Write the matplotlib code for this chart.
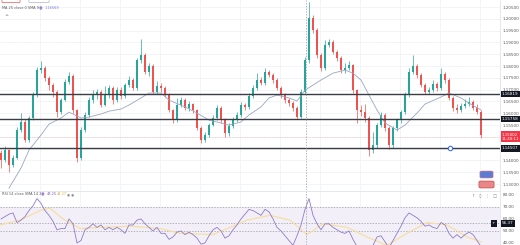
import matplotlib.pyplot as plt
from matplotlib.patches import FancyBboxPatch
import numpy as np

# candle data (4h bars), left to right
closes = [1.1402, 1.1444, 1.1381, 1.1410, 1.1529, 1.1563, 1.1486, 1.1580, 1.1677, 1.1783,
          1.1792, 1.1749, 1.1720, 1.1690, 1.1605, 1.1656, 1.1732, 1.1758, 1.1614, 1.1410,
          1.1529, 1.1592, 1.1656, 1.1677, 1.1690, 1.1635, 1.1677, 1.1707, 1.1656, 1.1699,
          1.1673, 1.1720, 1.1741, 1.1707, 1.1825, 1.1847, 1.1775, 1.1800, 1.1690, 1.1715,
          1.1707, 1.1677, 1.1614, 1.1571, 1.1635, 1.1656, 1.1622, 1.1639, 1.1614, 1.1537,
          1.1486, 1.1507, 1.1550, 1.1580, 1.1622, 1.1571, 1.1516, 1.1546, 1.1571, 1.1592,
          1.1635, 1.1627, 1.1673, 1.1707, 1.1741, 1.1728, 1.1775, 1.1762, 1.1741, 1.1707,
          1.1677, 1.1656, 1.1643, 1.1622, 1.1584, 1.1690, 1.1825, 1.2003, 1.1953, 1.1847,
          1.1792, 1.1889, 1.1902, 1.1860, 1.1834, 1.1783, 1.1792, 1.1804, 1.1699, 1.1614,
          1.1605, 1.1580, 1.1444, 1.1465, 1.1550, 1.1592, 1.1537, 1.1465, 1.1537, 1.1571,
          1.1605, 1.1677, 1.1775, 1.1800, 1.1762, 1.1720, 1.1690, 1.1699, 1.1724, 1.1707,
          1.1766, 1.1741, 1.1665, 1.1622, 1.1614, 1.1631, 1.1639, 1.1648, 1.1622, 1.1605,
          1.1507]
first_open = 1.1430
highs = [1.1445, 1.1460, 1.1450, 1.1425, 1.1540, 1.1600, 1.1575, 1.1590, 1.1690, 1.1795,
         1.1822, 1.1800, 1.1760, 1.1730, 1.1700, 1.1665, 1.1745, 1.1775, 1.1765, 1.1620,
         1.1540, 1.1605, 1.1668, 1.1700, 1.1705, 1.1700, 1.1715, 1.1720, 1.1715, 1.1710,
         1.1712, 1.1730, 1.1758, 1.1750, 1.1835, 1.1915, 1.1855, 1.1815, 1.1808, 1.1735,
         1.1728, 1.1715, 1.1685, 1.1620, 1.1665, 1.1668, 1.1665, 1.1650, 1.1645, 1.1620,
         1.1545, 1.1520, 1.1560, 1.1592, 1.1635, 1.1630, 1.1578, 1.1558, 1.1585, 1.1605,
         1.1648, 1.1645, 1.1685, 1.1718, 1.1770, 1.1752, 1.1790, 1.1785, 1.1770, 1.1748,
         1.1715, 1.1685, 1.1665, 1.1650, 1.1630, 1.1705, 1.1840, 1.2070, 1.2015, 1.1960,
         1.1855, 1.1910, 1.1915, 1.1910, 1.1868, 1.1842, 1.1812, 1.1820, 1.1810, 1.1705,
         1.1635, 1.1640, 1.1590, 1.1520, 1.1560, 1.1605, 1.1600, 1.1545, 1.1548, 1.1580,
         1.1615, 1.1690, 1.1790, 1.1845, 1.1810, 1.1770, 1.1728, 1.1712, 1.1740, 1.1732,
         1.1790, 1.1775, 1.1748, 1.1672, 1.1640, 1.1645, 1.1660, 1.1668, 1.1655, 1.1640,
         1.1612]
lows = [1.1370, 1.1395, 1.1350, 1.1372, 1.1405, 1.1520, 1.1478, 1.1480, 1.1570, 1.1670,
        1.1770, 1.1735, 1.1700, 1.1670, 1.1585, 1.1595, 1.1650, 1.1725, 1.1600, 1.1395,
        1.1400, 1.1520, 1.1585, 1.1645, 1.1660, 1.1625, 1.1630, 1.1665, 1.1640, 1.1648,
        1.1660, 1.1665, 1.1712, 1.1698, 1.1700, 1.1815, 1.1765, 1.1760, 1.1680, 1.1682,
        1.1692, 1.1668, 1.1605, 1.1560, 1.1565, 1.1625, 1.1612, 1.1610, 1.1600, 1.1528,
        1.1476, 1.1478, 1.1500, 1.1545, 1.1572, 1.1560, 1.1498, 1.1505, 1.1538, 1.1562,
        1.1585, 1.1615, 1.1620, 1.1665, 1.1700, 1.1718, 1.1720, 1.1752, 1.1730, 1.1698,
        1.1665, 1.1645, 1.1630, 1.1610, 1.1575, 1.1580, 1.1685, 1.1815, 1.1940, 1.1835,
        1.1780, 1.1785, 1.1880, 1.1850, 1.1822, 1.1770, 1.1772, 1.1782, 1.1688, 1.1560,
        1.1590, 1.1565, 1.1418, 1.1432, 1.1455, 1.1540, 1.1525, 1.1450, 1.1455, 1.1525,
        1.1560, 1.1598, 1.1670, 1.1765, 1.1750, 1.1710, 1.1680, 1.1680, 1.1690, 1.1695,
        1.1700, 1.1730, 1.1655, 1.1610, 1.1600, 1.1605, 1.1622, 1.1630, 1.1612, 1.1595,
        1.1495]

# moving average overlay (read at candle positions)
ma_x = [2, 5, 7, 10, 12, 15, 17, 20, 22, 25, 27, 30, 32, 35, 37, 40, 42, 46, 49, 52, 55, 57, 60, 62,
        65, 67, 69, 72, 74, 76, 80, 83, 86, 88, 90, 92, 94, 96, 99, 101, 104, 106, 110, 112, 115, 117, 120]
ma_vals = [1.1283, 1.1368, 1.1444, 1.1508, 1.1554, 1.1580, 1.1605, 1.1580, 1.1584, 1.1597, 1.1609,
           1.1618, 1.1635, 1.1665, 1.1686, 1.1686, 1.1656, 1.1627, 1.1601, 1.1571, 1.1559, 1.1550,
           1.1563, 1.1593, 1.1627, 1.1665, 1.1677, 1.1665, 1.1652, 1.1698, 1.1741, 1.1770, 1.1783,
           1.1770, 1.1741, 1.1677, 1.1614, 1.1559, 1.1529, 1.1550, 1.1601, 1.1639, 1.1669, 1.1686,
           1.1665, 1.1643, 1.1614]

# support / resistance levels
levels = [1.1681, 1.1576, 1.1451]
level_labels = ['1.16819', '1.15758', '1.14507']
last_price = 1.1500

# RSI pane
rsi = [60, 62, 64, 65, 57, 59, 62, 67, 71, 77, 73, 67, 63, 58, 51, 52, 52, 60, 56, 40,
       42, 51, 53, 56, 53, 55, 51, 53, 51, 53, 51, 48, 55, 55, 59, 60, 56, 53, 50, 53,
       48, 48, 43, 45, 49, 50, 47, 49, 47, 44, 39, 40, 46, 51, 53, 50, 44, 46, 51, 55,
       60, 64, 68, 67, 65, 63, 68, 66, 60, 53, 50, 46, 42, 38, 46, 55, 68, 77, 63, 56,
       51, 56, 56, 53, 51, 49, 48, 50, 43, 37, 35, 34, 33, 38, 45, 46, 41, 36, 42, 48,
       54, 61, 65, 63, 61, 58, 54, 55, 53, 52, 57, 55, 48, 44, 47, 44, 47, 49, 47, 42,
       37]
rsi_ma_x = [-0.25, 4.75, 9.75, 12.25, 15.5, 19.75, 24.75, 32.25, 39.75, 44.75, 53, 61.5, 67.25,
            72.25, 76.5, 80.5, 86.5, 91.5, 96.5, 101.5, 106.5, 111.5, 116.5, 120]
rsi_ma = [55, 59, 67, 69, 60, 52, 53, 54, 52, 48, 47, 59, 63, 59, 47, 56, 53, 45, 38, 48, 57, 55, 45, 41]
cross_x = 76.25
cross_rsi = 56.37

up_col = '#26a69a'
dn_col = '#ef5350'
grid_col = '#f0f2f7'

fig = plt.figure(figsize=(5.2, 2.45), dpi=100)
ax = fig.add_axes([0, 1 - 190 / 245, 500 / 520, 190 / 245])
ax2 = fig.add_axes([0, 0, 500 / 520, 54 / 245])

opens = [first_open] + closes[:-1]
x = np.arange(len(closes))
o = np.array(opens)
c = np.array(closes)
col = np.where(c >= o, up_col, dn_col)
ax.vlines(x, lows, highs, colors=col, lw=0.5, zorder=3)
ax.bar(x, np.maximum(np.abs(c - o), 0.0002), bottom=np.minimum(o, c), width=0.6,
       color=col, zorder=4)
ax.plot(ma_x, ma_vals, color='#9aa6c4', lw=0.6, zorder=5)

for lv in levels:
    ax.axhline(lv, color='#3b3d45', lw=1.0, zorder=6)
ax.axhline(last_price, color=dn_col, lw=0.4, ls=(0, (1, 2)), alpha=0.6, zorder=2)
ax.plot([112.25], [1.1451], 'o', ms=3.2, mfc='white', mec='#2962ff', mew=0.7, zorder=7)

xlim = (-0.25, 124.75)
ax.set_xlim(xlim)
ax.set_ylim(1.1275, 1.2080)
ticks = np.arange(1.130, 1.2051, 0.005)
ax.set_yticks(ticks)
# the labels under the price boxes are hidden
ax.set_yticklabels(['' if abs(t - 1.145) < 1e-6 or abs(t - 1.150) < 1e-6 else f'{t:.5f}'
                    for t in ticks])
ax.yaxis.tick_right()
ax.tick_params(axis='y', length=0, pad=2, labelsize=3, labelcolor='#555')
ax.set_xticks(np.arange(9.75, 125, 10))
ax.tick_params(axis='x', length=0, labelbottom=False)
ax.grid(True, color=grid_col, lw=0.6)
for s in ['top', 'left', 'bottom']:
    ax.spines[s].set_visible(False)
ax.spines['right'].set_color('#e0e3eb')
ax.spines['right'].set_linewidth(0.6)
ax.axvline(cross_x, color='#9598a1', lw=0.5, ls=(0, (2, 2)), zorder=8)

tr = ax.get_yaxis_transform()
for lv, lb in zip(levels, level_labels):
    ax.text(1.004, lv, lb, transform=tr, fontsize=3, color='white', va='center', ha='left',
            bbox=dict(boxstyle='square,pad=0.3', fc='#131722', ec='none'), zorder=10, clip_on=False)
ax.text(1.004, last_price, '1.15002\n11:40:11', transform=tr, fontsize=2.8, color='white',
        va='center', ha='left', linespacing=1.2,
        bbox=dict(boxstyle='square,pad=0.3', fc='#f23645', ec='none'), zorder=10, clip_on=False)

# legend texts
fig.text(2 / 520, 1 - 8 / 245, 'MA 25 close 0 SMA 9', fontsize=2.5, color='#555', va='center')
fig.text(39 / 520, 1 - 8 / 245, '◉', fontsize=3, color='#7e57c2', va='center')
fig.text(45 / 520, 1 - 8 / 245, '1.16569', fontsize=2.5, color='#6c7bd6', va='center')
fig.text(4 / 520, 1 - 17 / 245, '^', fontsize=3.5, color='#555', va='center')

# top toolbar fragments
fig.patches.append(FancyBboxPatch((3 / 520, 1 - 2 / 245), 16 / 520, 4 / 245,
                                  boxstyle='round,pad=0.002', fc='white', ec='#ef5350', lw=0.5,
                                  transform=fig.transFigure))
fig.patches.append(FancyBboxPatch((30 / 520, 1 - 2 / 245), 18 / 520, 4 / 245,
                                  boxstyle='round,pad=0.002', fc='white', ec='#b2b5be', lw=0.5,
                                  transform=fig.transFigure))

# flag icons
fig.patches.append(FancyBboxPatch((482 / 520, 1 - 177 / 245), 9 / 520, 5 / 245,
                                  boxstyle='round,pad=0.004', fc='#5b7bd5', ec='#e57373', lw=0.4,
                                  transform=fig.transFigure))
fig.patches.append(FancyBboxPatch((481 / 520, 1 - 187 / 245), 11 / 520, 5 / 245,
                                  boxstyle='round,pad=0.004', fc='#e8868a', ec='#c0392b', lw=0.4,
                                  transform=fig.transFigure))
fig.text(472 / 520, 1 - 195 / 245, '↑   ▯   ⋮   □', fontsize=3, color='#888', va='center')

# RSI pane
ax2.fill_between(xlim, 30, 70, color='#7e57c2', alpha=0.09, lw=0)
ax2.axhline(70, color='#9598a1', lw=0.5, ls=(0, (2, 2)))
ax2.axhline(50, color='#9598a1', lw=0.5, ls=(0, (2, 2)))
ax2.axhline(cross_rsi, color='#9598a1', lw=0.5, ls=(0, (2, 2)))
ax2.plot(rsi_ma_x, rsi_ma, color='#f6dfa4', lw=0.9)
ax2.plot(x, rsi, color='#8e7cc3', lw=0.6)
ax2.axvline(cross_x, color='#9598a1', lw=0.5, ls=(0, (2, 2)))
ax2.set_xlim(xlim)
ax2.set_ylim(38.3, 83.3)
rt = [40, 50, 60, 70, 80]
ax2.set_yticks(rt)
ax2.set_yticklabels([f'{t:.2f}' for t in rt])
ax2.yaxis.tick_right()
ax2.tick_params(axis='y', length=0, pad=2, labelsize=3, labelcolor='#555')
ax2.set_xticks(np.arange(9.75, 125, 10))
ax2.tick_params(axis='x', length=0, labelbottom=False)
ax2.grid(True, axis='x', color=grid_col, lw=0.6)
for s in ['left', 'bottom']:
    ax2.spines[s].set_visible(False)
ax2.spines['top'].set_color('#e0e3eb')
ax2.spines['top'].set_linewidth(0.6)
ax2.spines['right'].set_color('#e0e3eb')
ax2.spines['right'].set_linewidth(0.6)
tr2 = ax2.get_yaxis_transform()
ax2.text(1.004, cross_rsi, f'{cross_rsi:.2f}', transform=tr2, fontsize=3, color='white',
         va='center', ha='left', bbox=dict(boxstyle='square,pad=0.3', fc='#131722', ec='none'),
         zorder=10, clip_on=False)
ax2.text(0.987, cross_rsi, '+', transform=tr2, fontsize=3, color='white', va='center', ha='center',
         bbox=dict(boxstyle='square,pad=0.3', fc='#131722', ec='none'), zorder=10)

fig.text(2 / 520, 1 - 194 / 245, 'RSI 14 close SMA 14 2', fontsize=2.5, color='#555', va='center')
fig.text(41 / 520, 1 - 194 / 245, '◉', fontsize=3, color='#7e57c2', va='center')
fig.text(47 / 520, 1 - 194 / 245, '43.25', fontsize=2.5, color='#7e57c2', va='center')
fig.text(57 / 520, 1 - 194 / 245, '44.27', fontsize=2.5, color='#e0b040', va='center')
fig.text(67 / 520, 1 - 194 / 245, '◉ ◉', fontsize=2.5, color='#777', va='center')

plt.savefig('out.png', dpi=100)
